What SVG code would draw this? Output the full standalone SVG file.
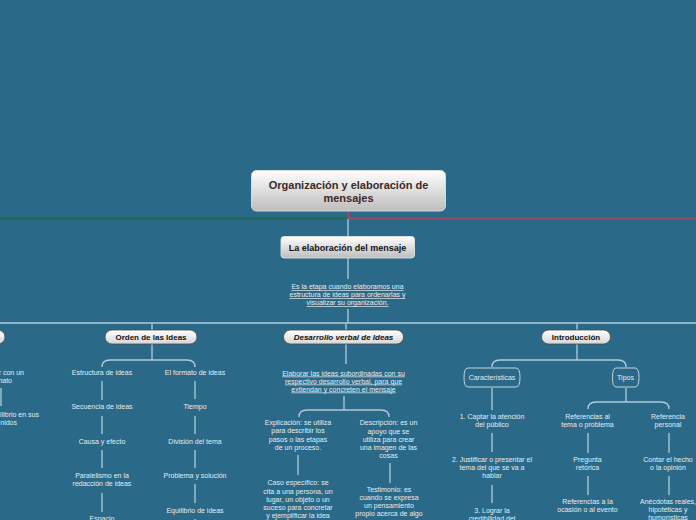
<svg xmlns="http://www.w3.org/2000/svg" width="696" height="520" viewBox="0 0 696 520">
<defs>
<linearGradient id="gRoot" x1="0" y1="0" x2="0" y2="1"><stop offset="0" stop-color="#ffffff"/><stop offset="1" stop-color="#bdbdbd"/></linearGradient>
<linearGradient id="gPill" x1="0" y1="0" x2="0" y2="1"><stop offset="0" stop-color="#ffffff"/><stop offset="1" stop-color="#d6d6d6"/></linearGradient>
<style>
.ln{fill:none;stroke:#b3ccd9;stroke-width:1.3}
.lf{font-family:"Liberation Sans",Arial,sans-serif;font-size:7px;fill:#e4edf2;text-anchor:middle}
.ul{text-decoration:underline}
.pill{fill:url(#gPill);stroke:#4a4a4a;stroke-width:0.8}
.pt{font-family:"Liberation Sans",Arial,sans-serif;font-size:8px;font-weight:bold;fill:#111;text-anchor:middle}
.sh{fill:none;stroke:#c2d6e0;stroke-width:1}
</style>
</defs>
<rect width="696" height="520" fill="#2a6987"/>
<g id="connectors">
<path d="M0,218.5 H348" stroke="#1c6b52" stroke-width="2" fill="none"/>
<path d="M348,218.5 H696" stroke="#9a4a60" stroke-width="2" fill="none"/>
<path d="M348.5,211 V218" stroke="#b04a62" stroke-width="1.5" fill="none"/>
<path class="ln" d="M348,219 V236"/>
<path class="ln" d="M348,258 V279"/>
<path class="ln" d="M348,309 V323"/>
<path class="ln" d="M0,323 H696"/>
<path class="ln" d="M152,323 V330 M346,323 V330 M577,323 V330"/>
<path class="ln" d="M1,388 V406"/>
<!-- Orden -->
<path class="ln" d="M152,344 V360 M102,367 Q102,360 110,360 H187 Q195,360 195,367"/>
<path class="ln" d="M102,381 V400 M102,416 V434 M102,450 V468 M102,493 V512"/>
<path class="ln" d="M195,381 V399 M195,416 V434 M195,450 V468 M195,484 V503 M195,519 V520"/>
<!-- Desarrollo -->
<path class="ln" d="M346,344 V364"/>
<path class="ln" d="M344,396 V410 M299,417 Q299,410 307,410 H381 Q389,410 389,417"/>
<path class="ln" d="M298,455 V475 M390,463 V483"/>
<!-- Introduccion -->
<path class="ln" d="M577,344 V360 M492,367 Q492,360 500,360 H618 Q626,360 626,367"/>
<path class="ln" d="M492,388 V410 M492,433 V452 M492,485 V503"/>
<path class="ln" d="M626,388 V402 M588,409 Q588,402 596,402 H661 Q669,402 669,409"/>
<path class="ln" d="M588,433 V453 M669,433 V453 M588,476 V495 M669,476 V495"/>
</g>
<g id="root">
<rect x="251.5" y="170.5" width="194" height="40.5" rx="5" fill="url(#gRoot)" stroke="#e8e8e8" stroke-width="0.8"/>
<text x="348.5" y="188.5" font-family="'Liberation Sans',Arial,sans-serif" font-size="11" font-weight="bold" fill="#3b2a24" text-anchor="middle">Organización y elaboración de</text>
<text x="348.5" y="201.5" font-family="'Liberation Sans',Arial,sans-serif" font-size="11" font-weight="bold" fill="#3b2a24" text-anchor="middle">mensajes</text>
</g>
<g id="elaboracion">
<rect x="281" y="236.5" width="133.5" height="21.5" rx="3" fill="url(#gRoot)" stroke="#e8e8e8" stroke-width="0.8"/>
<text x="347.5" y="250.5" font-family="'Liberation Sans',Arial,sans-serif" font-size="9" font-weight="bold" fill="#111" text-anchor="middle">La elaboración del mensaje</text>
</g>
<g id="definicion">
<text class="lf ul" x="347.5" y="289">Es la etapa cuando elaboramos una</text>
<text class="lf ul" x="347.5" y="297">estructura de ideas para ordenarlas y</text>
<text class="lf ul" x="347.5" y="305">visualizar su organización.</text>
</g>
<g id="nodo-izquierda">
<rect class="pill" x="-60" y="330" width="65" height="14" rx="7"/>
<text class="lf" x="24" y="374.5" style="text-anchor:end">r con un</text>
<text class="lf" x="12" y="382.5" style="text-anchor:end">nato</text>
<text class="lf" x="39" y="416.5" style="text-anchor:end">ilibrio en sus</text>
<text class="lf" x="17" y="424.5" style="text-anchor:end">nidos</text>
</g>
<g id="orden">
<rect class="pill" x="105" y="330" width="92" height="14" rx="7"/>
<text class="pt" x="151" y="340">Orden de las Ideas</text>
</g>
<g id="orden-hijos">
<text class="lf" x="102" y="374.5">Estructura de ideas</text>
<text class="lf" x="102" y="409">Secuencia de ideas</text>
<text class="lf" x="102" y="444">Causa y efecto</text>
<text class="lf" x="102" y="478">Paralelismo en la</text>
<text class="lf" x="102" y="486">redacción de ideas</text>
<text class="lf" x="102" y="520.5">Espacio</text>
<text class="lf" x="195" y="374.5">El formato de ideas</text>
<text class="lf" x="195" y="409">Tiempo</text>
<text class="lf" x="195" y="444">División del tema</text>
<text class="lf" x="195" y="478">Problema y solución</text>
<text class="lf" x="195" y="513">Equilibrio de ideas</text>
</g>
<g id="desarrollo">
<rect class="pill" x="283.5" y="330" width="120" height="14" rx="7"/>
<text class="pt" x="343.5" y="340" font-style="italic">Desarrollo verbal de Ideas</text>
</g>
<g id="desarrollo-hijos">
<text class="lf ul" x="343.5" y="375.5">Elaborar las ideas subordinadas con su</text>
<text class="lf ul" x="343.5" y="383.5">respectivo desarrollo verbal, para que</text>
<text class="lf ul" x="343.5" y="391.5">extiendan y concreten el mensaje</text>
<text class="lf" x="298" y="425">Explicación: se utiliza</text>
<text class="lf" x="298" y="433">para describir los</text>
<text class="lf" x="298" y="441.5">pasos o las etapas</text>
<text class="lf" x="298" y="449.5">de un proceso.</text>
<text class="lf" x="388.5" y="425">Descripción: es un</text>
<text class="lf" x="388.5" y="433.5">apoyo que se</text>
<text class="lf" x="388.5" y="441.5">utiliza para crear</text>
<text class="lf" x="388.5" y="450">una imagen de las</text>
<text class="lf" x="388.5" y="458">cosas</text>
<text class="lf" x="298" y="485">Caso específico: se</text>
<text class="lf" x="298" y="493.5">cita a una persona, un</text>
<text class="lf" x="298" y="501.5">lugar, un objeto o un</text>
<text class="lf" x="298" y="509.5">suceso para concretar</text>
<text class="lf" x="298" y="518">y ejemplificar la idea</text>
<text class="lf" x="389" y="491.5">Testimonio: es</text>
<text class="lf" x="389" y="499.5">cuando se expresa</text>
<text class="lf" x="389" y="507.5">un pensamiento</text>
<text class="lf" x="389" y="516">propio acerca de algo</text>
</g>
<g id="introduccion">
<rect class="pill" x="541.5" y="330" width="69" height="14" rx="7"/>
<text class="pt" x="576" y="340">Introducción</text>
</g>
<g id="caracteristicas">
<path class="sh" d="M468,368 H516 Q520,368 520,377.5 Q520,387 516,387 H468 Q464,387 464,377.5 Q464,368 468,368 Z"/>
<text class="lf" x="492" y="380">Características</text>
</g>
<g id="tipos">
<path class="sh" d="M616,368 H635 Q639,368 639,377.5 Q639,387 635,387 H616 Q612.5,387 612.5,377.5 Q612.5,368 616,368 Z"/>
<text class="lf" x="625.5" y="380">Tipos</text>
</g>
<g id="intro-hijos">
<text class="lf" x="492" y="419">1. Captar la atención</text>
<text class="lf" x="492" y="427">del público</text>
<text class="lf" x="492" y="461.5">2. Justificar o presentar el</text>
<text class="lf" x="492" y="469.5">tema del que se va a</text>
<text class="lf" x="492" y="477.5">hablar</text>
<text class="lf" x="492" y="513">3. Lograr la</text>
<text class="lf" x="492" y="521">credibilidad del</text>
<text class="lf" x="587.5" y="419">Referencias al</text>
<text class="lf" x="587.5" y="427">tema o problema</text>
<text class="lf" x="668" y="419">Referencia</text>
<text class="lf" x="668" y="427">personal</text>
<text class="lf" x="587.5" y="461.5">Pregunta</text>
<text class="lf" x="587.5" y="469.5">retórica</text>
<text class="lf" x="668" y="461.5">Contar el hecho</text>
<text class="lf" x="668" y="469.5">o la opinión</text>
<text class="lf" x="587.5" y="504">Referencias a la</text>
<text class="lf" x="587.5" y="512">ocasión o al evento</text>
<text class="lf" x="668" y="504">Anécdotas reales,</text>
<text class="lf" x="668" y="512">hipotéticas y</text>
<text class="lf" x="668" y="520">humorísticas</text>
</g>
</svg>
